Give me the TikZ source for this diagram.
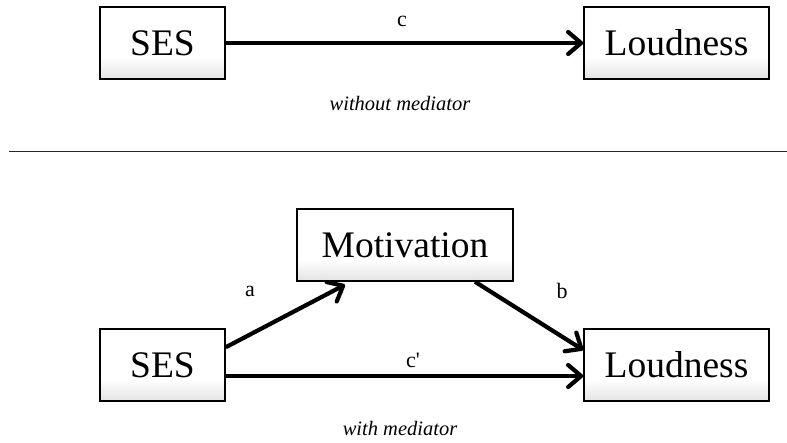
\documentclass[tikz,border=0pt]{standalone}
\usepackage{fontspec}
\setmainfont{Liberation Serif}
\usetikzlibrary{arrows.meta,calc}
\pgfdeclareverticalshading{boxshade}{100bp}{color(0bp)=(black!11); color(25bp)=(black!11); color(40bp)=(white); color(100bp)=(white)}
\begin{document}
\begin{tikzpicture}[x=1pt,y=-1pt,
  varbox/.style={draw=black, line width=1.5pt, shading=boxshade,
    minimum height=72pt, inner sep=0pt, font=\fontsize{37.5}{40}\selectfont},
  arr/.style={line width=4.2pt, -{Straight Barb[length=13pt,width=22pt,line cap=round,line join=round]}},
  lab/.style={font=\fontsize{22}{26}\selectfont, inner sep=0pt},
  captxt/.style={font=\fontsize{20.5}{24}\selectfont\itshape, inner sep=0pt}]
\useasboundingbox (0,0) rectangle (787,442);
% top panel
\node[varbox, minimum width=125pt] (ses1) at (162.5,43) {SES};
\node[varbox, minimum width=185pt] (loud1) at (676.5,43) {Loudness};
\draw[arr] (ses1.east) -- (loud1.west);
\node[lab] (lc) at (402,21) {c};
\node[captxt] (cap1) at (400,104) {without mediator};
% separator
\coordinate (sepL) at (9,151);
\coordinate (sepR) at (787,151);
\draw[line width=1pt, black!85] (sepL) -- (sepR);
% bottom panel
\node[varbox, minimum width=216pt] (mot) at (405,245) {Motivation};
\node[varbox, minimum width=125pt] (ses2) at (162.5,365) {SES};
\node[varbox, minimum width=185pt] (loud2) at (676.5,365) {Loudness};
\draw[arr] ($(ses2.north east)+(0,19)$) -- ($(mot.south)+(-60,3)$);
\draw[arr] ($(mot.south)+(70,0)$) -- ($(loud2.west)+(0,-15)$);
\draw[arr] ($(ses2.east)+(0,11)$) -- ($(loud2.west)+(0,11)$);
\node[lab] (la) at (250,291) {a};
\node[lab] (lb) at (562,291) {b};
\node[lab] (lcp) at (413,360) {c\textquotesingle};
\node[captxt] (cap2) at (400,428) {with mediator};
\end{tikzpicture}
\end{document}
